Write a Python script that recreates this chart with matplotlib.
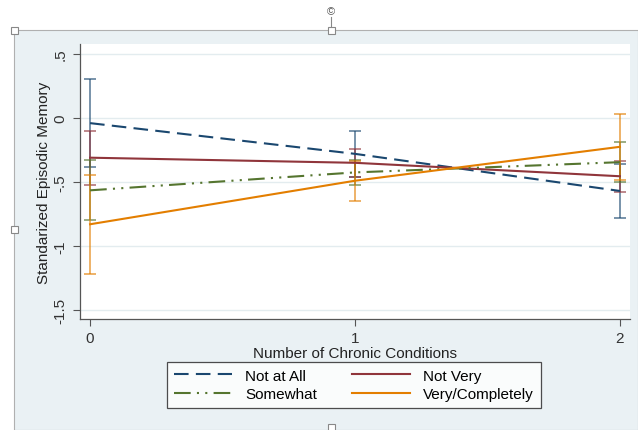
import numpy as np
import matplotlib
matplotlib.use("Agg")
import matplotlib.pyplot as plt
from matplotlib.patches import Rectangle
from matplotlib.lines import Line2D

plt.rcParams['font.family'] = ['Liberation Sans', 'DejaVu Sans']

# data
conditions = [0, 1, 2]
groups = ["Not at All", "Not Very", "Somewhat", "Very/Completely"]
not_at_all = [-0.04, -0.28, -0.57]
not_at_all_err = [0.345, 0.18, 0.21]
not_very = [-0.31, -0.35, -0.455]
not_very_err = [0.21, 0.11, 0.12]
somewhat = [-0.565, -0.425, -0.345]
somewhat_err = [0.235, 0.10, 0.155]
very = [-0.83, -0.49, -0.225]
very_err = [0.385, 0.155, 0.26]
yticks = [0.5, 0, -0.5, -1, -1.5]
yticklabels = [".5", "0", "-.5", "-1", "-1.5"]

colors = ["#1a476f", "#90353b", "#55752f", "#e37e00"]
styles = [(0, (7, 3.5)), "-", (0, (8, 3, 1, 3, 1, 3)), "-"]

W, H = 638, 431
fig = plt.figure(figsize=(W / 100, H / 100), dpi=100)
fig.patch.set_facecolor("white")

# graph region (light blue-grey) with selection frame
bg = Rectangle((14 / W, 0), 1 - 14 / W, 1 - 31 / H, transform=fig.transFigure,
               facecolor="#eaf1f4", edgecolor="#b0b0b0", lw=0.8, zorder=-10)
fig.add_artist(bg)
for px, py in [(14, 31), (331, 31), (14, 230), (331, 428)]:
    fig.add_artist(Rectangle(((px - 3.5) / W, 1 - (py + 3.5) / H), 7 / W, 7 / H,
                             transform=fig.transFigure, facecolor="white",
                             edgecolor="#888888", lw=0.8, zorder=5))
fig.add_artist(Line2D([331 / W, 331 / W], [1 - 18 / H, 1 - 28 / H],
                      transform=fig.transFigure, color="#888888", lw=0.8))
fig.text(331 / W, 1 - 12 / H, "©", ha="center", va="center", fontsize=8,
         color="#555555")

ax = fig.add_axes([80 / W, 1 - 320 / H, 550 / W, 275 / H])
ax.set_zorder(1)
ax.set_facecolor("white")

series = [not_at_all, not_very, somewhat, very]
errs = [not_at_all_err, not_very_err, somewhat_err, very_err]
handles = []
for name, y, e, c, ls in zip(groups, series, errs, colors, styles):
    ax.errorbar(conditions, y, yerr=e, fmt="none", ecolor=c, elinewidth=1.1,
                capsize=4, capthick=1.1, alpha=0.75, zorder=2)
    h, = ax.plot(conditions, y, color=c, linestyle=ls, lw=1.5, label=name, zorder=3)
    handles.append(h)

ax.set_xlim(-0.038, 2.038)
ax.set_ylim(-1.57, 0.578)
ax.set_xticks(conditions)
ax.set_yticks(yticks)
ax.set_yticklabels(yticklabels, rotation=90, va="center")
ax.grid(axis="y", color="#e3ecef", lw=1)
ax.set_axisbelow(True)
for s in ["top", "right"]:
    ax.spines[s].set_visible(False)
for s in ["left", "bottom"]:
    ax.spines[s].set_color("#555555")
    ax.spines[s].set_linewidth(0.9)
ax.tick_params(colors="#555555", labelcolor="#333333", labelsize=11, length=5)
ax.tick_params(axis="y", pad=4)
ax.set_xlabel("Number of Chronic Conditions", fontsize=11, color="#222222", labelpad=1)
ax.set_ylabel("Standarized Episodic Memory", fontsize=11, color="#222222", labelpad=2)

# legend order as in reference: row 1 Not at All / Not Very, row 2 Somewhat / Very
order = [0, 2, 1, 3]
leg = fig.legend(handles=[handles[i] for i in order], labels=[groups[i] for i in order],
                 ncol=2, loc="center", bbox_to_anchor=(354 / W, 1 - 386 / H),
                 frameon=True, fancybox=False, edgecolor="#222222",
                 fontsize=11, handlelength=3.8, columnspacing=2.3,
                 handletextpad=0.85, borderpad=0.45, labelspacing=0.3)
leg.get_frame().set_linewidth(0.9)

fig.savefig("out.png", dpi=100)
